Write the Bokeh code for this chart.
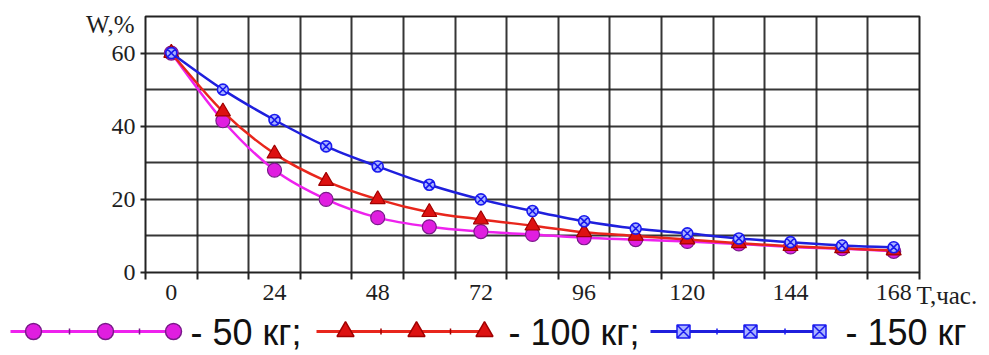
from bokeh.plotting import figure
from bokeh.layouts import column
from bokeh.models import FixedTicker, Range1d
from bokeh.core.properties import value
from bokeh.embed import file_html
from bokeh.resources import INLINE
import numpy as np

# ---- data ----
hours = [0, 12, 24, 36, 48, 60, 72, 84, 96, 108, 120, 132, 144, 156, 168]
w_50kg = [60, 41.5, 28, 20, 15, 12.5, 11.2, 10.4, 9.5, 9.0, 8.5, 7.8, 7.0, 6.5, 5.8]
w_100kg = [60, 44, 32.5, 25, 20, 16.5, 14.5, 12.8, 11.0, 10.0, 9.0, 8.0, 7.2, 6.6, 6.0]
w_150kg = [60, 50, 41.7, 34.5, 29, 24, 20, 16.8, 14.0, 12.0, 10.7, 9.3, 8.3, 7.4, 6.9]
x_tick_labels = [0, 24, 48, 72, 96, 120, 144, 168]
y_tick_labels = [0, 20, 40, 60]
legend_labels = ["- 50 кг;", "- 100 кг;", "- 150 кг"]
x_title = "T,час."
y_title = "W,%"

SERIF = "Liberation Serif"
SANS = "Liberation Sans"
INK = "#1e1e1e"

p = figure(width=981, height=311, output_backend="svg", toolbar_location=None,
           x_range=Range1d(-6, 174), y_range=Range1d(0, 70),
           min_border_left=145, min_border_right=62, min_border_top=16,
           min_border_bottom=39)
p.frame_align = False
p.outline_line_color = "#222222"
p.outline_line_width = 2
p.background_fill_color = "white"
p.border_fill_color = "white"

# grid
p.xgrid.ticker = FixedTicker(ticks=[6 + 12 * k for k in range(14)])
p.ygrid.ticker = FixedTicker(ticks=[10, 20, 30, 40, 50, 60])
for g in (p.xgrid, p.ygrid):
    g.grid_line_color = "#202020"
    g.grid_line_width = 2
    g.grid_line_alpha = 0.9

# x axis
xa = p.xaxis[0]
xa.ticker = FixedTicker(ticks=x_tick_labels, minor_ticks=[-6 + 12 * k for k in range(16)])
xa.axis_line_color = None
xa.major_tick_line_color = None
xa.minor_tick_line_color = "#222222"
xa.minor_tick_line_width = 2
xa.minor_tick_out = 7
xa.minor_tick_in = 0
xa.major_tick_out = 0
xa.major_label_standoff = 5
xa.major_label_text_font = SERIF
xa.major_label_text_font_size = "24px"
xa.major_label_text_color = INK

# y axis
ya = p.yaxis[0]
ya.ticker = FixedTicker(ticks=y_tick_labels, minor_ticks=[0, 10, 20, 30, 40, 50, 60, 70])
ya.axis_line_color = None
ya.major_tick_line_color = "#222222"
ya.major_tick_line_width = 2
ya.major_tick_out = 5
ya.major_tick_in = 0
ya.minor_tick_line_color = None
ya.major_label_standoff = 5
ya.major_label_text_font = SERIF
ya.major_label_text_font_size = "24px"
ya.major_label_text_color = INK


def smooth(xs, ys):
    """Catmull-Rom -> cubic bezier control points computed from the data."""
    xs = np.asarray(xs, float)
    ys = np.asarray(ys, float)
    n = len(xs)
    x0, y0, x1, y1, cx0, cy0, cx1, cy1 = [], [], [], [], [], [], [], []
    for i in range(n - 1):
        pxm = xs[i - 1] if i > 0 else xs[i]
        pym = ys[i - 1] if i > 0 else ys[i]
        pxp = xs[i + 2] if i + 2 < n else xs[i + 1]
        pyp = ys[i + 2] if i + 2 < n else ys[i + 1]
        x0.append(xs[i]); y0.append(ys[i]); x1.append(xs[i + 1]); y1.append(ys[i + 1])
        cx0.append(xs[i] + (xs[i + 1] - pxm) / 6); cy0.append(ys[i] + (ys[i + 1] - pym) / 6)
        cx1.append(xs[i + 1] - (pxp - xs[i]) / 6); cy1.append(ys[i + 1] - (pyp - ys[i]) / 6)
    return dict(x0=x0, y0=y0, x1=x1, y1=y1, cx0=cx0, cy0=cy0, cx1=cx1, cy1=cy1)


MAG_LINE, MAG_FILL, MAG_EDGE = "#ee22ee", "#e01ee0", "#7a1a8a"
RED_LINE, RED_FILL, RED_EDGE = "#e8261c", "#dd1111", "#a00000"
BLU_LINE, BLU_FILL, BLU_EDGE = "#1f1fdd", "#a9b3ff", "#1a1aee"

p.bezier(line_color=MAG_LINE, line_width=2.5, **smooth(hours, w_50kg))
p.scatter(hours, w_50kg, marker="circle", size=14, fill_color=MAG_FILL,
          line_color=MAG_EDGE, line_width=1.2)
p.bezier(line_color=RED_LINE, line_width=2.5, **smooth(hours, w_100kg))
p.scatter(hours, w_100kg, marker="triangle", size=15, fill_color=RED_FILL,
          line_color=RED_EDGE, line_width=1.2)
p.bezier(line_color=BLU_LINE, line_width=2.5, **smooth(hours, w_150kg))
p.scatter(hours, w_150kg, marker="circle_x", size=11, fill_color=BLU_FILL,
          line_color=BLU_EDGE, line_width=1.6)

# ---- transparent overlay (pixel coordinates) for titles and legend ----
OV_H = 354
ov = figure(width=981, height=OV_H, output_backend="svg", toolbar_location=None,
            x_range=Range1d(0, 981), y_range=Range1d(OV_H, 0),
            min_border=0, outline_line_color=None,
            background_fill_color=None, border_fill_color=None)
ov.frame_align = False
ov.margin = (-311, 0, 0, 0)
ov.axis.visible = False
ov.grid.visible = False

ov.text([134], [24], text=[y_title], text_font=value(SERIF), text_font_size="25px",
        text_baseline="middle", text_align="right", text_color=INK)
ov.text([916], [295], text=[x_title], text_font=value(SERIF), text_font_size="25px",
        text_baseline="middle", text_align="left", text_color=INK)

ly = 331
specs = [
    (10, [33, 105, 173], 190, MAG_LINE, "circle", 16, MAG_FILL, MAG_EDGE),
    (316, [345, 416, 484], 508, RED_LINE, "triangle", 17, RED_FILL, RED_EDGE),
    (650, [683, 750, 819], 845, BLU_LINE, "square_x", 13, BLU_FILL, BLU_EDGE),
]
for (lx0, mx, tx, lc, mk, ms, fc, ec), lab in zip(specs, legend_labels):
    ov.line([lx0, mx[-1]], [ly, ly], line_color=lc, line_width=3)
    ticks = [(mx[0] + mx[1]) / 2, (mx[1] + mx[2]) / 2]
    ov.scatter(ticks, [ly, ly], marker="dash", angle=np.pi / 2, size=6,
               line_color=ec, line_width=1.5)
    ov.scatter(mx, [ly] * 3, marker=mk, size=ms, fill_color=fc, line_color=ec,
               line_width=1.5)
    ov.text([tx], [ly + 1], text=[lab], text_font=value(SANS), text_font_size="36px",
            text_baseline="middle", text_align="left", text_color="#111111")

layout = column(p, ov, spacing=0)
open("out.html", "w").write(file_html(layout, INLINE))
